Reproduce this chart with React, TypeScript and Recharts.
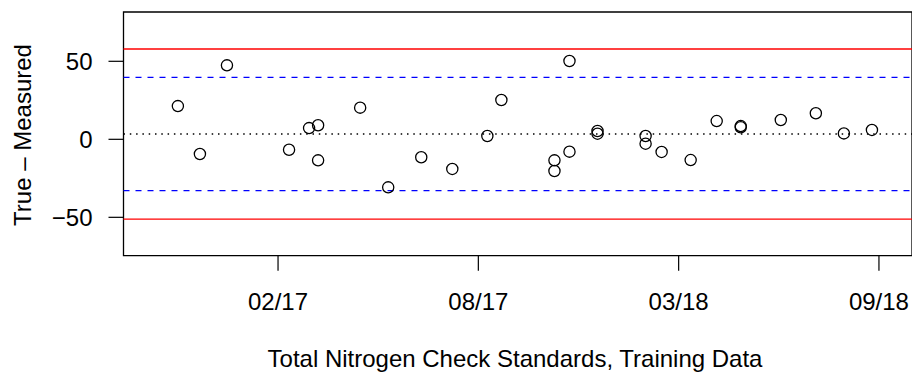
import {
  ScatterChart,
  Scatter,
  XAxis,
  YAxis,
  ReferenceLine,
  ReferenceArea,
} from "recharts";

// sample dates, as days since 1970-01-01
const days = [
  17100, 17122, 17149, 17211, 17231, 17240, 17240, 17282, 17310, 17343,
  17374, 17409, 17423, 17476, 17476, 17491, 17491, 17519, 17519, 17567,
  17567, 17583, 17612, 17638, 17662, 17662, 17702, 17737, 17765, 17793,
];

// True - Measured
const diffs = [
  21.3, -9.4, 47.4, -6.7, 7.2, 9.0, -13.5, 20.3, -30.8, -11.5,
  -19.0, 2.1, 25.2, -13.5, -20.3, 50.2, -7.9, 5.3, 3.6, 2.1,
  -2.8, -8.1, -13.3, 11.7, 8.5, 7.7, 12.4, 16.7, 3.8, 6.0,
];

const xTicks = [17200, 17400, 17600, 17800];
const xTickLabels = ["02/17", "08/17", "03/18", "09/18"];
const yTicks = [-50, 0, 50];

const meanLine = 3.4;
const warnLines = [39.7, -32.9];
const controlLines = [57.9, -51.1];

const X_MIN = 17045.7;
const X_MAX = 17833;
const Y_MIN = -74.6;
const Y_MAX = 81.6;

const data = days.map((d, i) => ({ day: d, diff: diffs[i] }));

const FONT = "'Liberation Sans', Arial, Helvetica, sans-serif";

const OpenCircle = (props: any) => (
  <circle
    cx={props.cx}
    cy={props.cy}
    r={5.6}
    fill="none"
    stroke="#000"
    strokeWidth={1.3}
  />
);

export default function App() {
  return (
    <div style={{ position: "absolute", left: 0, top: 0 }}>
      <ScatterChart
        width={912}
        height={373}
        margin={{ top: 12, right: 0, bottom: 0, left: 0 }}
        style={{ fontFamily: FONT }}
      >
        <XAxis
          type="number"
          dataKey="day"
          domain={[X_MIN, X_MAX]}
          ticks={xTicks}
          tickFormatter={(v, i) => xTickLabels[i]}
          axisLine={false}
          tickSize={15}
          tickMargin={22}
          height={117.3}
          tickLine={{ stroke: "#000", strokeWidth: 1.2 }}
          tick={{ fill: "#000", fontSize: 24, fontFamily: FONT }}
          allowDataOverflow
        />
        <YAxis
          type="number"
          dataKey="diff"
          domain={[Y_MIN, Y_MAX]}
          ticks={yTicks}
          tickFormatter={(v) => String(v).replace("-", "\u2212")}
          axisLine={false}
          width={123.5}
          tickSize={15}
          tickMargin={16}
          tickLine={{ stroke: "#000", strokeWidth: 1.2 }}
          tick={{ fill: "#000", fontSize: 24, fontFamily: FONT }}
          allowDataOverflow
        />
        {controlLines.map((v) => (
          <ReferenceLine key={"c" + v} y={v} stroke="#ff0000" strokeWidth={1.3} />
        ))}
        {warnLines.map((v) => (
          <ReferenceLine
            key={"w" + v}
            y={v}
            stroke="#0000ff"
            strokeWidth={1.3}
            strokeDasharray="6 6"
          />
        ))}
        <ReferenceLine
          y={meanLine}
          stroke="#000"
          strokeWidth={1.3}
          strokeDasharray="1.5 4.8"
        />
        <ReferenceArea
          x1={X_MIN}
          x2={X_MAX}
          y1={Y_MIN}
          y2={Y_MAX}
          fill="none"
          stroke="#000"
          strokeWidth={1.3}
          fillOpacity={0}
        />
        <Scatter data={data} shape={OpenCircle} isAnimationActive={false} />
        <text
          x={30.5}
          y={135}
          transform="rotate(-90, 30.5, 135)"
          textAnchor="middle"
          fontSize={24}
          fontFamily={FONT}
          fill="#000"
        >
          True – Measured
        </text>
        <text
          x={515}
          y={366.7}
          textAnchor="middle"
          fontSize={24}
          fontFamily={FONT}
          fill="#000"
        >
          Total Nitrogen Check Standards, Training Data
        </text>
      </ScatterChart>
    </div>
  );
}
